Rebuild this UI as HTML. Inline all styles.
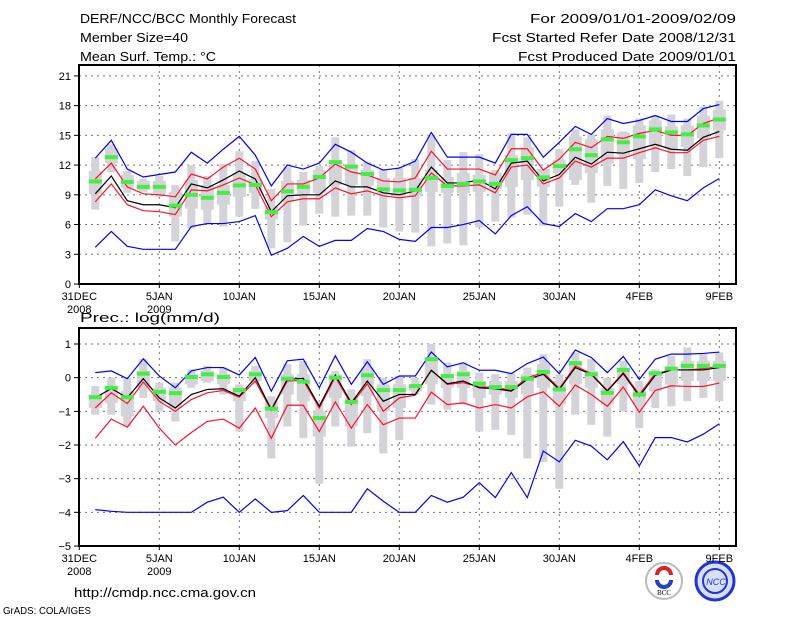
<!DOCTYPE html>
<html><head><meta charset="utf-8"><style>
body{margin:0;background:#fff}
svg{display:block;font-family:"Liberation Sans",sans-serif}
</style></head><body>
<svg id="chart" width="800" height="618" viewBox="0 0 800 618" xmlns="http://www.w3.org/2000/svg">
<g font-size="12.5" fill="#000">
<text x="80" y="23" textLength="216" lengthAdjust="spacingAndGlyphs">DERF/NCC/BCC Monthly Forecast</text>
<text x="80" y="42" textLength="108" lengthAdjust="spacingAndGlyphs">Member Size=40</text>
<text x="80" y="61" textLength="136" lengthAdjust="spacingAndGlyphs">Mean Surf. Temp.: °C</text>
<text x="736" y="23" text-anchor="end" textLength="206" lengthAdjust="spacingAndGlyphs">For 2009/01/01-2009/02/09</text>
<text x="736" y="42" text-anchor="end" textLength="244" lengthAdjust="spacingAndGlyphs">Fcst Started Refer Date 2008/12/31</text>
<text x="736" y="61" text-anchor="end" textLength="218" lengthAdjust="spacingAndGlyphs">Fcst Produced Date 2009/01/01</text>
<text x="80" y="322" textLength="140" lengthAdjust="spacingAndGlyphs">Prec.: log(mm/d)</text>
<text x="74" y="597" textLength="182" lengthAdjust="spacingAndGlyphs">http://cmdp.ncc.cma.gov.cn</text>
<text x="3" y="614" font-size="10" textLength="88" lengthAdjust="spacingAndGlyphs">GrADS: COLA/IGES</text>
</g>
<g>
<circle cx="664" cy="581" r="18" fill="#fff" stroke="#bbb" stroke-width="2"/>
<path d="M657 575 a7 7 0 1 1 14 0" fill="none" stroke="#d22" stroke-width="4"/>
<path d="M657 580 a7 7 0 0 0 14 0" fill="none" stroke="#2244cc" stroke-width="4"/>
<text x="664" y="595" font-size="7" text-anchor="middle" font-family="Liberation Serif,serif">BCC</text>
</g>
<g>
<circle cx="715" cy="581" r="19" fill="#d8e0ff" stroke="#2233dd" stroke-width="3"/>
<circle cx="715" cy="581" r="12" fill="none" stroke="#2233dd" stroke-width="2"/>
<text x="716" y="585" font-size="9" text-anchor="middle" fill="#2233dd" font-style="italic">NCC</text>
</g>
<g id="plots"></g>
</svg>
<script>
// ---- Temperature panel data (Jan1..Feb9) ----
const days = [1,2,3,4,5,6,7,8,9,10,11,12,13,14,15,16,17,18,19,20,21,22,23,24,25,26,27,28,29,30,31,32,33,34,35,36,37,38,39,40];
const tMax = [12.7,14.5,11.6,10.8,11.05,11.3,13.3,12.2,13.6,14.9,13.0,9.9,12.0,11.6,12.2,14.1,13.3,12.2,11.5,11.7,12.4,15.3,12.8,12.8,12.8,12.2,15.1,15.1,12.8,14.3,15.9,15.1,16.7,16.2,16.5,17.0,16.4,16.4,17.7,18.1];
const tUp = [10.6,12.2,9.8,9.1,9.0,8.8,11.1,10.6,11.8,12.7,11.6,8.4,10.1,10.1,10.7,12.1,11.3,11.0,10.4,10.3,10.7,13.4,11.6,11.6,11.6,11.0,13.65,13.65,11.5,12.6,14.3,13.75,14.9,14.7,15.2,15.5,15.0,15.0,16.2,16.75];
const tMean = [9.1,10.9,8.4,8.0,8.0,7.7,10.1,9.7,10.5,11.4,10.6,7.3,8.9,9.0,9.0,10.4,9.8,9.8,9.2,9.0,9.4,11.8,10.2,10.2,10.5,9.6,12.2,12.4,10.4,11.05,12.8,12.1,13.3,13.2,13.65,14.1,13.6,13.5,14.8,15.4];
const tLow = [8.3,10.1,8.0,7.4,7.3,7.0,9.5,9.4,10.0,10.7,10.0,6.8,8.3,8.6,8.6,9.7,9.1,9.4,8.9,8.7,8.9,11.2,9.9,9.9,10.0,9.2,11.8,12.0,10.1,10.7,12.4,11.8,12.7,12.7,13.25,13.75,13.25,13.25,14.5,14.9];
const tMin = [3.7,5.3,3.8,3.5,3.5,3.5,5.8,6.1,6.1,6.3,6.9,2.9,3.6,4.8,3.8,4.4,4.4,5.6,5.3,4.5,4.3,5.7,5.7,6.0,6.4,5.05,6.9,7.8,6.1,5.8,7.1,6.3,7.6,7.6,8.0,9.5,8.9,8.4,9.7,10.65];
const tObs = [10.35,12.8,10.3,9.8,9.8,7.9,9.0,8.7,9.2,9.95,10.0,7.25,9.35,9.8,10.8,12.3,11.85,11.1,9.55,9.45,9.5,10.7,9.9,10.1,10.35,10.1,12.5,12.7,10.75,11.9,13.6,13.0,14.6,14.3,14.9,15.6,15.3,15.1,16.0,16.6];
const tRangeHi = [12.8,14.1,11.4,10.6,10.9,10.0,12.0,10.9,12.1,13.4,12.4,9.6,11.8,11.3,11.9,14.8,13.5,12.3,11.6,11.7,12.6,15.0,12.5,13.3,13.1,11.5,15.2,14.8,11.5,13.6,15.6,15.1,17.0,15.4,16.7,17.0,17.1,16.7,17.9,18.5];
const tRangeLo = [7.5,11.3,9.2,9.3,8.8,4.3,5.6,6.0,5.8,6.8,7.6,3.6,4.2,5.9,7.1,6.8,6.9,6.9,5.7,5.3,5.2,3.8,4.1,3.9,5.7,6.3,6.7,7.0,5.9,7.8,10.0,8.2,9.9,9.6,10.2,11.3,11.6,10.9,11.8,12.7];
const tBoxHi = [11.4,13.7,11.0,10.4,10.4,9.3,10.5,10.0,10.0,11.2,10.6,7.8,10.4,10.5,11.5,12.4,12.0,11.5,10.7,10.7,10.7,11.5,10.8,11.2,11.0,11.2,13.0,13.8,11.6,12.5,14.9,14.6,15.6,15.3,16.0,16.5,15.9,16.0,17.0,17.6];
const tBoxLo = [9.1,12.2,9.7,9.5,9.1,6.8,7.6,7.5,8.0,8.8,9.2,6.5,8.3,9.0,9.2,10.0,10.0,9.9,9.0,8.8,8.8,9.3,9.2,9.2,9.3,9.6,9.8,10.5,9.8,11.2,10.5,11.2,12.2,13.0,12.6,14.0,13.6,13.8,14.7,15.5];
const tTicks = [0,3,6,9,12,15,18,21];
// ---- Precipitation panel data ----
const pMax = [0.15,0.2,-0.03,0.56,0.05,-0.3,0.2,0.3,0.3,0.08,0.6,-0.4,0.5,0.55,-0.3,0.65,-0.2,0.47,-0.2,0.05,0.05,0.76,0.32,0.44,0.22,0.22,0.12,0.42,0.61,0.12,0.82,0.6,0.15,0.63,-0.05,0.55,0.7,0.7,0.72,0.76];
const pUp = [-0.9,-0.45,-0.77,-0.13,-0.7,-1.0,-0.65,-0.45,-0.38,-0.58,-0.1,-0.97,-0.1,-0.08,-0.9,0.02,-0.8,-0.18,-1.0,-0.6,-0.52,0.22,-0.2,-0.15,-0.28,-0.28,-0.38,0,0.15,-0.32,0.35,0.12,-0.38,0.15,-0.5,0.12,0.23,0.23,0.27,0.34];
const pMean = [-0.6,-0.32,-0.6,-0.03,-0.6,-0.9,-0.5,-0.35,-0.33,-0.55,0,-0.95,-0.05,-0.02,-0.85,0.08,-0.75,-0.1,-0.7,-0.5,-0.5,0.22,-0.18,-0.1,-0.3,-0.33,-0.4,-0.05,0.1,-0.35,0.3,0.1,-0.4,0.12,-0.55,0.07,0.23,0.23,0.23,0.3];
const pLow = [-1.8,-1.23,-1.47,-0.85,-1.5,-2.0,-1.63,-1.3,-1.23,-1.5,-0.9,-1.8,-0.82,-0.82,-1.6,-0.72,-1.5,-0.8,-1.4,-1.2,-1.2,-0.43,-0.8,-0.75,-0.9,-0.8,-0.9,-0.57,-0.42,-0.85,-0.22,-0.5,-0.85,-0.28,-1.03,-0.38,-0.24,-0.26,-0.26,-0.16];
const pMin = [-3.92,-3.97,-4,-4,-4,-4,-4,-3.7,-3.55,-4,-3.6,-4,-3.95,-3.5,-4,-4,-4,-3.3,-3.67,-4,-4,-3.5,-3.7,-3.55,-3.12,-3.56,-2.82,-3.56,-2.18,-2.5,-1.86,-2.03,-2.44,-1.9,-2.62,-1.78,-1.78,-1.91,-1.68,-1.37];
const pObs = [-0.58,-0.3,-0.58,0.12,-0.42,-0.46,0.02,0.1,0.02,-0.37,0.1,-0.92,-0.03,-0.12,-1.2,0,-0.72,0.07,-0.37,-0.37,-0.25,0.55,0.05,0.1,-0.18,-0.28,-0.28,-0.03,0.17,-0.35,0.43,0.1,-0.45,0.23,-0.5,0.13,0.27,0.35,0.35,0.35];
const pRangeHi = [-0.25,0,0,0.55,-0.15,-0.15,0.25,0.35,0.3,-0.2,0.35,-0.55,0.4,0.5,-0.7,0.2,-0.35,0.55,0,0.05,0,1.0,0.45,0.45,0.15,0.1,0.15,0.3,0.7,0.1,0.75,0.55,0,0.5,-0.1,0.25,0.65,0.9,0.7,0.75];
const pRangeLo = [-1.1,-1.1,-1.45,-0.6,-1.0,-1.3,-0.3,-0.15,-0.5,-1.6,-0.2,-2.4,-1.45,-1.8,-3.15,-1.45,-2.05,-1.65,-2.25,-1.85,-0.5,-0.8,-0.95,-0.8,-1.6,-1.55,-1.7,-2.4,-2.5,-3.3,-1.1,-1.4,-1.75,-1.0,-1.5,-0.9,-0.85,-0.7,-0.6,-0.7];
const pBoxHi = [-0.5,-0.3,-0.4,0.2,-0.3,-0.3,0.1,0.2,0.1,-0.3,0.2,-0.7,0.1,0.1,-1.0,0.1,-0.6,0.3,-0.2,-0.2,-0.2,0.5,0.1,0.2,-0.1,-0.1,-0.1,0.1,0.4,-0.1,0.5,0.2,-0.3,0.3,-0.3,0.1,0.3,0.5,0.5,0.5];
const pBoxLo = [-0.9,-0.75,-1.15,-0.3,-0.7,-0.9,-0.2,-0.1,-0.2,-0.7,-0.1,-1.2,-0.5,-0.7,-1.75,-0.6,-1.45,-0.55,-1.0,-0.9,-0.4,-0.2,-0.3,-0.3,-0.6,-0.5,-0.6,-0.5,-0.3,-0.8,-0.2,-0.3,-0.8,-0.2,-0.8,-0.4,-0.2,-0.1,-0.1,-0.1];
const pTicks = [-5,-4,-3,-2,-1,0,1];
const xTickDays = [0,5,10,15,20,25,30,35,40];
const xTickLabels = ["31DEC","5JAN","10JAN","15JAN","20JAN","25JAN","30JAN","4FEB","9FEB"];
const xTickLabels2 = ["2008","2009","","","","","","",""];

const NS="http://www.w3.org/2000/svg";
const root=document.getElementById('plots');
function mk(tag,attrs,parent){const e=document.createElementNS(NS,tag);for(const k in attrs)e.setAttribute(k,attrs[k]);(parent||root).appendChild(e);return e;}
const X0=79.3, DX=16, FL=79, FR=736;
function xs(d){return X0+DX*d;}

function panel(name,top,bottom,vmin,vmax,ticks,ser){
  const ys=v=>bottom-(v-vmin)/(vmax-vmin)*(bottom-top);
  const g=mk('g',{});
  
  
  ticks.forEach(t=>{
    const y=ys(t);
    if(t!==vmin){const l=mk('line',{x1:FL,x2:FR,y1:y,y2:y,stroke:'#777','stroke-dasharray':'2,4','stroke-width':1},g);
    
    }
    const tk=mk('line',{x1:FL-5,x2:FL,y1:y,y2:y,stroke:'#000'},g);
    
    
    const tx=mk('text',{x:FL-8,y:y+4,'text-anchor':'end','font-size':11},g);
    tx.textContent=String(t).replace('-','\u2212');
    
    
  });
  xTickDays.forEach((d,i)=>{
    const x=xs(d);
    if(d>0){const l=mk('line',{x1:x,x2:x,y1:top,y2:bottom,stroke:'#777','stroke-dasharray':'2,4'},g);
    
    }
    const tk=mk('line',{x1:x,x2:x,y1:bottom,y2:bottom+4,stroke:'#000'},g);
    
    
    const tx=mk('text',{x:x,y:bottom+16,'text-anchor':'middle','font-size':11},g);
    tx.textContent=xTickLabels[i];
    
    
    if(xTickLabels2[i]){const t2=mk('text',{x:x,y:bottom+29,'text-anchor':'middle','font-size':11},g);
    t2.textContent=xTickLabels2[i];
    
    }
  });
  days.forEach((d,i)=>{
    const x=xs(d);
    const r=mk('rect',{x:x-4,width:8,y:ys(ser.rHi[i]),height:Math.max(1,ys(ser.rLo[i])-ys(ser.rHi[i])),fill:'#d3d3d8'},g);
    
    
    const b=mk('rect',{x:x-6.5,width:13,y:ys(ser.bHi[i]),height:Math.max(1,ys(ser.bLo[i])-ys(ser.bHi[i])),fill:'#d3d3d8'},g);
    
    
  });
  const line=(arr,col,nm)=>{
    const p=mk('polyline',{points:days.map((d,i)=>xs(d)+','+ys(arr[i])).join(' '),fill:'none',stroke:col,'stroke-width':1.2},g);
    
    
  };
  line(ser.max,'#0000ff','max-line');
  line(ser.min,'#0000ff','min-line');
  line(ser.up,'#ff1030','upper-line');
  line(ser.low,'#ff1030','lower-line');
  line(ser.mean,'#000','mean-line');
  days.forEach((d,i)=>{
    const m=mk('rect',{x:xs(d)-6.5,width:13,y:ys(ser.obs[i])-2,height:4,fill:'#44ee44'},g);
    
    
  });
  const f=mk('rect',{x:FL,y:top,width:FR-FL,height:bottom-top,fill:'none',stroke:'#000','stroke-width':2},g);
  
  
}
panel('temperature-panel',65,284,0,22.1,tTicks,{max:tMax,up:tUp,mean:tMean,low:tLow,min:tMin,obs:tObs,rHi:tRangeHi,rLo:tRangeLo,bHi:tBoxHi,bLo:tBoxLo});
panel('precipitation-panel',328,546,-5,1.475,pTicks,{max:pMax,up:pUp,mean:pMean,low:pLow,min:pMin,obs:pObs,rHi:pRangeHi,rLo:pRangeLo,bHi:pBoxHi,bLo:pBoxLo});
</script>
</body></html>
